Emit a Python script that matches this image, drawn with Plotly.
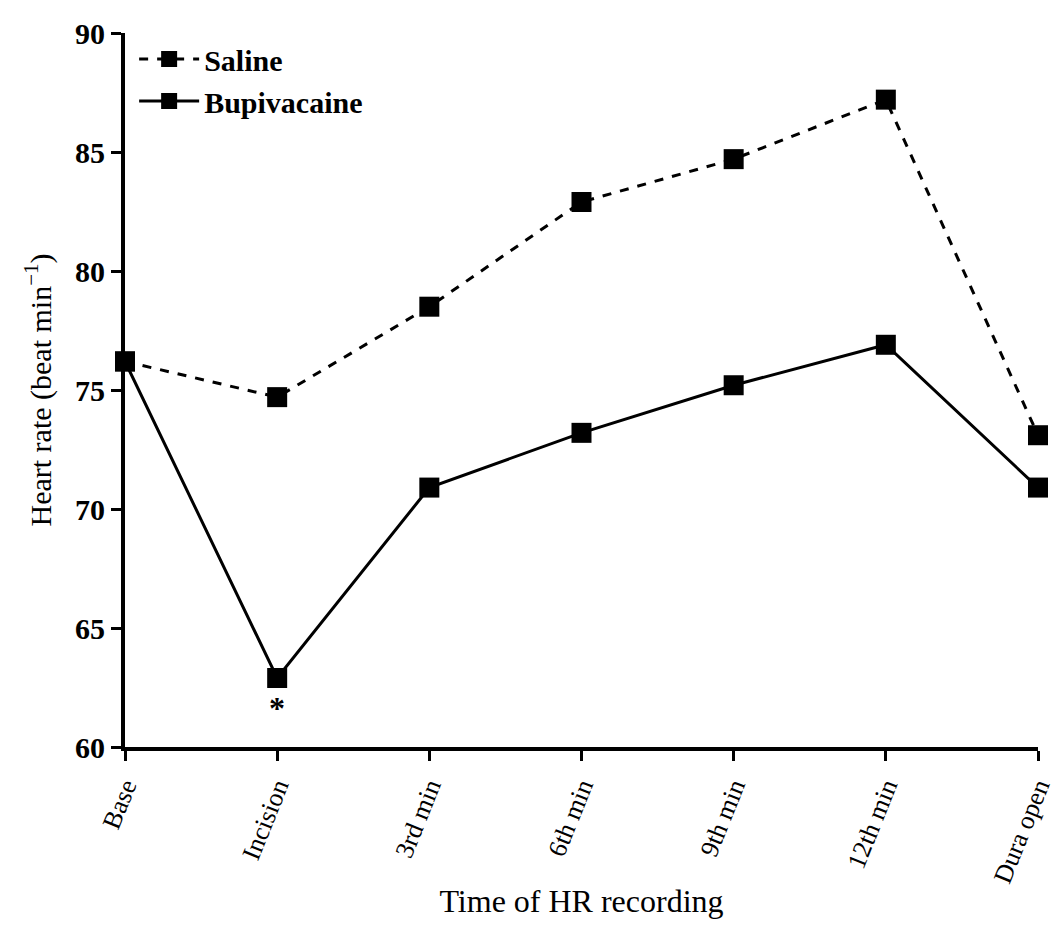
import plotly.graph_objects as go

categories = ["Base", "Incision", "3rd min", "6th min", "9th min", "12th min", "Dura open"]
saline = [76.2, 74.7, 78.5, 82.9, 84.7, 87.2, 73.1]
bupivacaine = [76.2, 62.9, 70.9, 73.2, 75.2, 76.9, 70.9]
y_ticks = [60, 65, 70, 75, 80, 85, 90]

FONT = "Liberation Serif"
x_idx = list(range(len(categories)))

fig = go.Figure()
fig.add_trace(go.Scatter(
    x=x_idx, y=saline, name="<b>Saline</b>", mode="lines+markers",
    line=dict(color="black", width=3, dash="dash"),
    marker=dict(symbol="square", size=20, color="black"),
    cliponaxis=False,
))
fig.add_trace(go.Scatter(
    x=x_idx, y=bupivacaine, name="<b>Bupivacaine</b>", mode="lines+markers",
    line=dict(color="black", width=3),
    marker=dict(symbol="square", size=20, color="black"),
    cliponaxis=False,
))

fig.add_annotation(x=1, y=bupivacaine[1], text="<b>*</b>", showarrow=False,
                   yshift=-30, font=dict(family=FONT, size=32, color="black"))

fig.update_layout(
    width=1056, height=932,
    margin=dict(l=125, r=18, t=33, b=185),
    plot_bgcolor="white", paper_bgcolor="white",
    font=dict(family=FONT, color="black"),
    showlegend=True,
    legend=dict(x=0.01, y=1.0, xanchor="left", yanchor="top",
                font=dict(family=FONT, size=30, color="black"),
                bgcolor="rgba(0,0,0,0)", tracegroupgap=0, itemwidth=60),
    xaxis=dict(
        range=[0, 6], tickmode="array", tickvals=x_idx,
        ticktext=categories, tickangle=-68, ticklabeloverflow="allow",
        automargin=False,
        showline=True, linecolor="black", linewidth=4,
        ticks="outside", ticklen=10, tickwidth=3, tickcolor="black",
        showgrid=False, zeroline=False,
        tickfont=dict(family=FONT, size=26, color="black"),
        title=dict(text="Time of HR recording", font=dict(family=FONT, size=32), standoff=4),
    ),
    yaxis=dict(
        range=[60, 90], tickmode="array", tickvals=y_ticks,
        ticktext=[f"<b>{t}</b>" for t in y_ticks],
        automargin=False,
        showline=True, linecolor="black", linewidth=4,
        ticks="outside", ticklen=10, tickwidth=3, tickcolor="black",
        showgrid=False, zeroline=False,
        tickfont=dict(family=FONT, size=30, color="black"),
        title=dict(text="Heart rate (beat min<sup>−1</sup>)", font=dict(family=FONT, size=30), standoff=16),
    ),
)

fig.write_html("out.html")
